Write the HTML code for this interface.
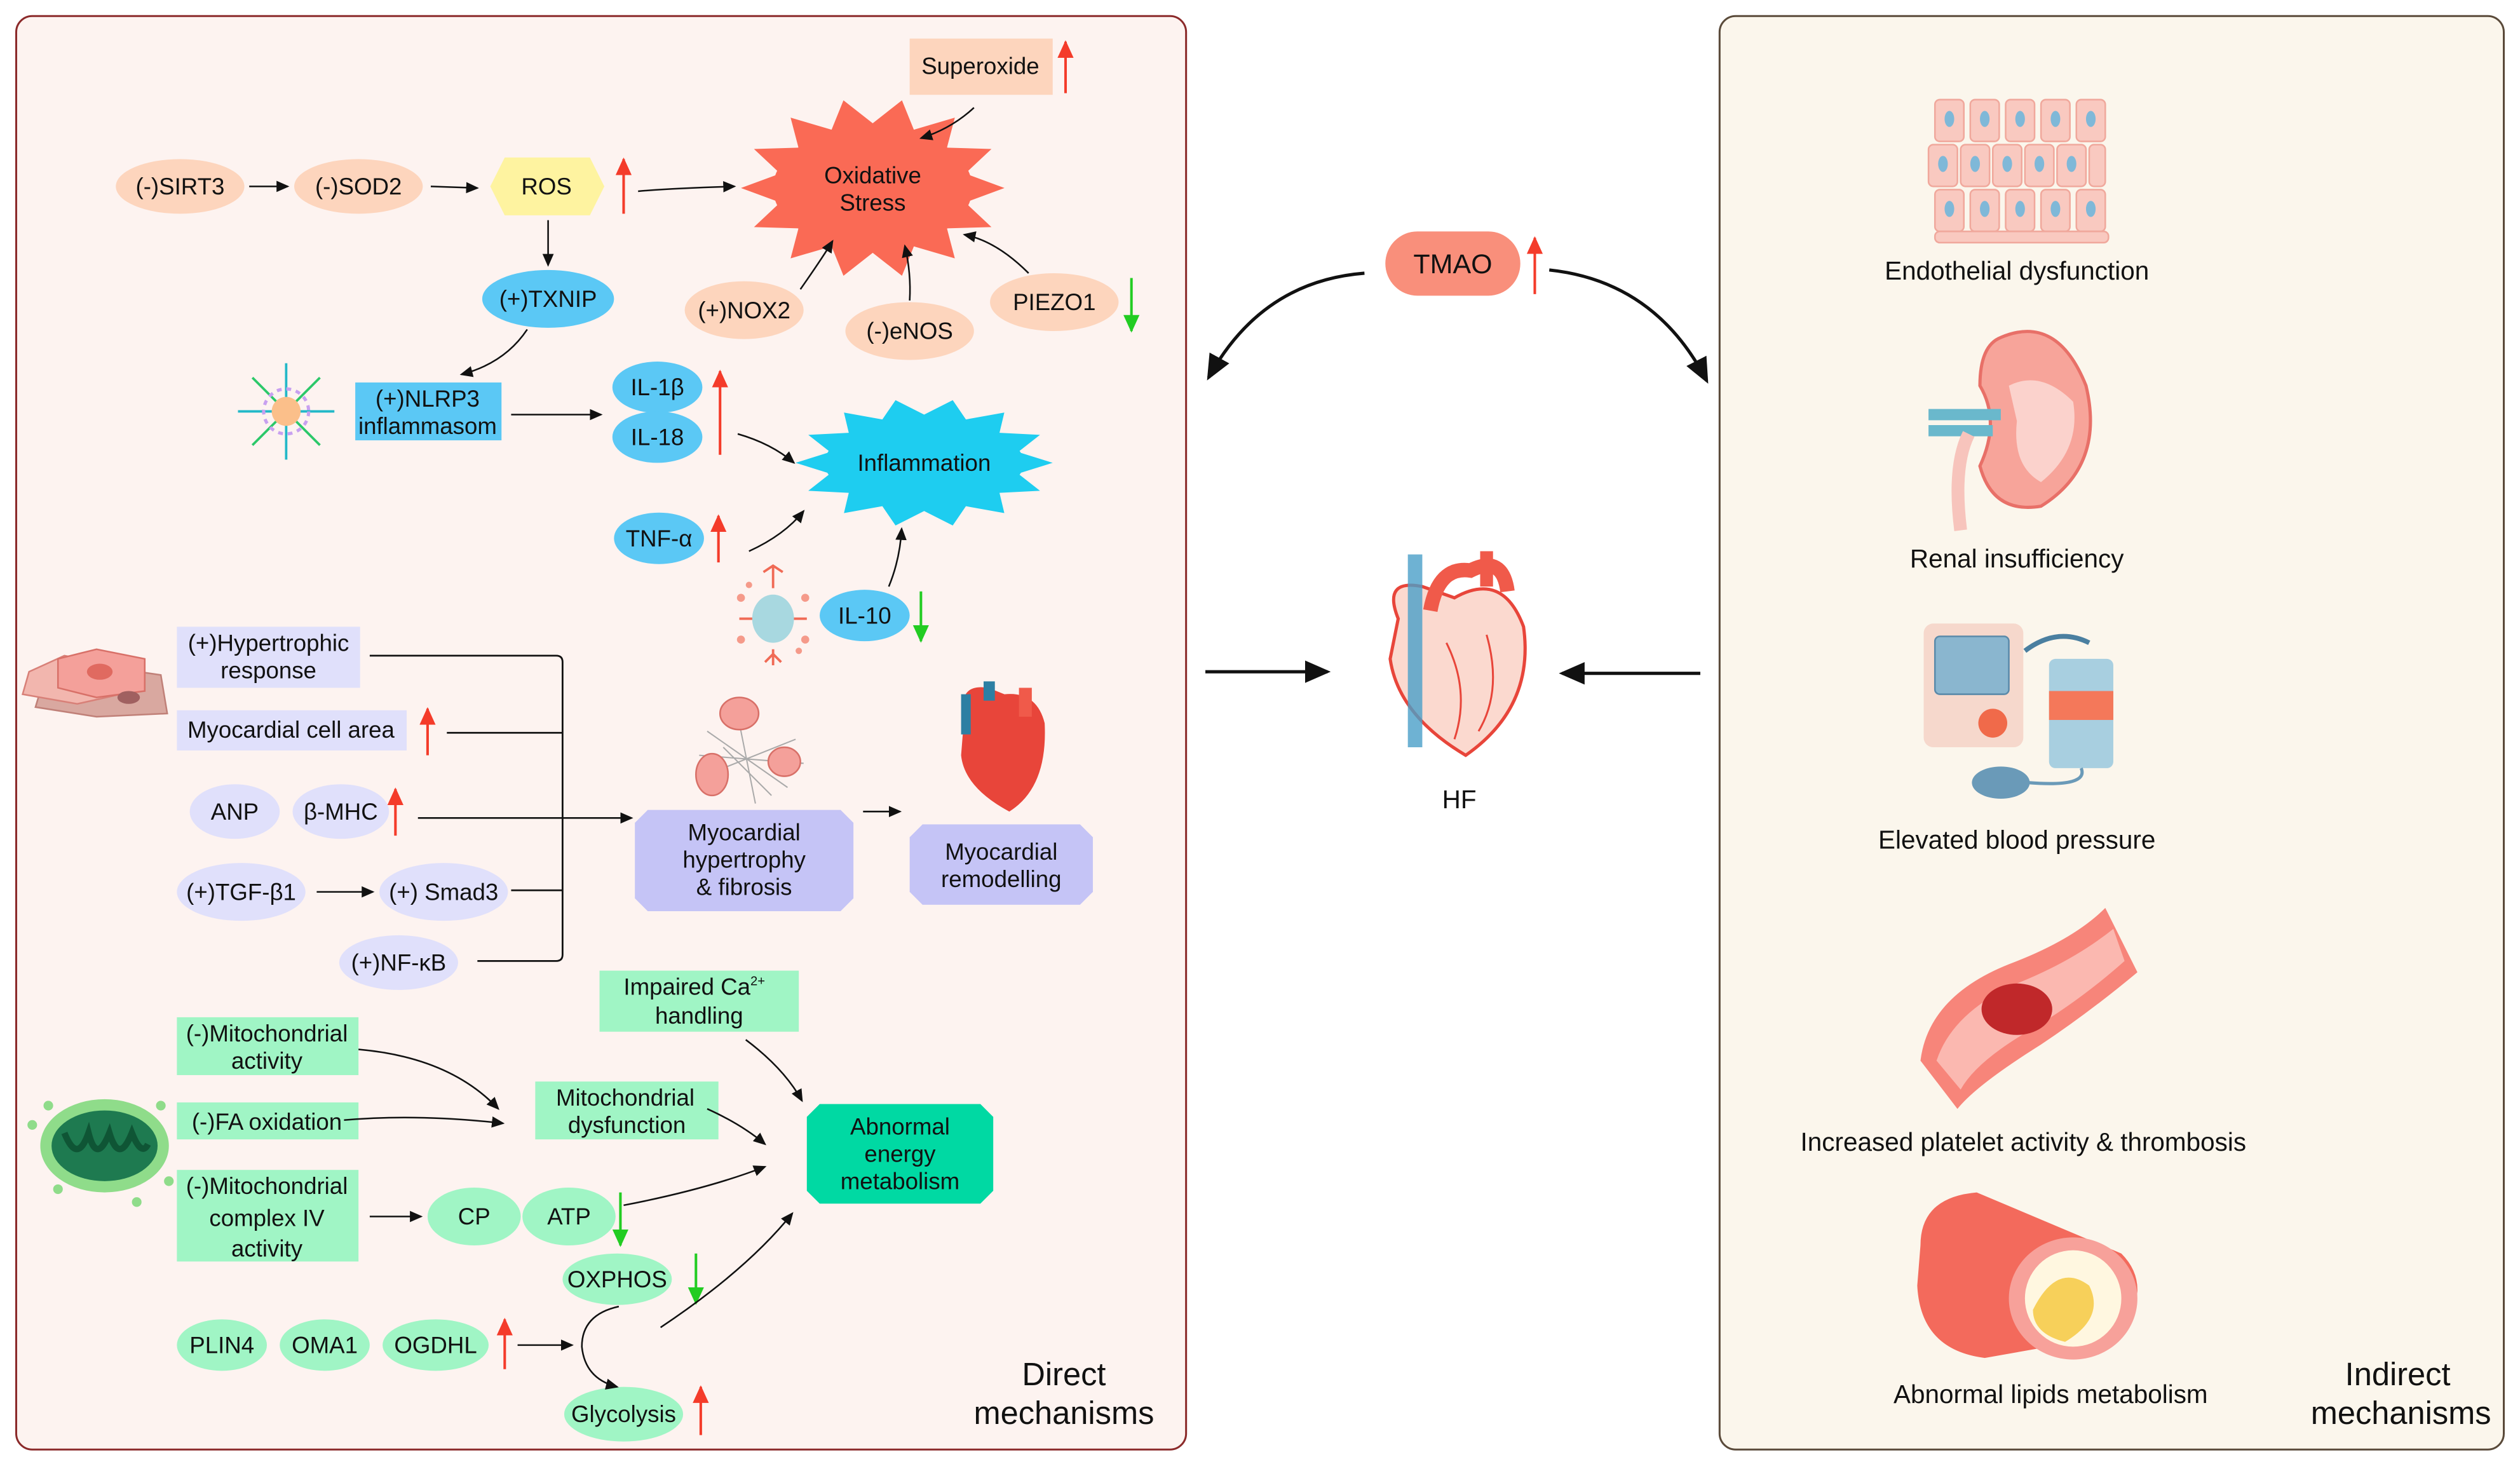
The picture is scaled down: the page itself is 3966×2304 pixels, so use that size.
<!DOCTYPE html>
<html><head><meta charset="utf-8"><style>
html,body{margin:0;padding:0;background:#fff;}
svg{display:block;}
text{font-family:"Liberation Sans",Arial,sans-serif;fill:#111;}
</style></head><body>
<svg id="s" width="3966" height="2304" viewBox="0 0 1568 911" xmlns="http://www.w3.org/2000/svg">
<defs>
<marker id="a" markerWidth="8" markerHeight="8" refX="7" refY="4" orient="auto" markerUnits="userSpaceOnUse"><path d="M0,0.5 L8,4 L0,7.5 Z" fill="#111"/></marker>
<marker id="ab" markerWidth="16" markerHeight="14" refX="14" refY="7" orient="auto" markerUnits="userSpaceOnUse"><path d="M0,0 L16,7 L0,14 Z" fill="#111"/></marker>
<marker id="r" markerWidth="11" markerHeight="10" refX="10" refY="5" orient="auto" markerUnits="userSpaceOnUse"><path d="M0,0 L11,5 L0,10 Z" fill="#f43b2a"/></marker>
<marker id="g" markerWidth="11" markerHeight="10" refX="10" refY="5" orient="auto" markerUnits="userSpaceOnUse"><path d="M0,0 L11,5 L0,10 Z" fill="#22cc22"/></marker>
</defs>
<!-- panels -->
<rect x="10" y="10" width="728" height="892" rx="10" fill="#fdf3f0" stroke="#8b2a2a" stroke-width="1.2"/>
<rect x="1070" y="10" width="488" height="892" rx="10" fill="#fbf6ec" stroke="#5a4a3a" stroke-width="1.2"/>

<g font-size="14.5" text-anchor="middle">
<!-- oxidative -->
<ellipse cx="543" cy="117" rx="62" ry="38" fill="#fa6a55"/>
<polygon id="st1" fill="#fa6a55" points=""/>
<text x="543" y="114">Oxidative</text><text x="543" y="131">Stress</text>
<rect x="566" y="24" width="89" height="35" fill="#fdd5bd"/><text x="610" y="46">Superoxide</text>
<line x1="663" y1="58" x2="663" y2="26" stroke="#f43b2a" stroke-width="1.6" marker-end="url(#r)"/>
<path d="M606,67 Q592,80 573,86" fill="none" stroke="#111" marker-end="url(#a)"/>

<ellipse cx="112" cy="116" rx="40" ry="17" fill="#fdd5bd"/><text x="112" y="121">(-)SIRT3</text>
<ellipse cx="223" cy="116" rx="40" ry="17" fill="#fdd5bd"/><text x="223" y="121">(-)SOD2</text>
<line x1="155" y1="116" x2="179" y2="116" stroke="#111" marker-end="url(#a)"/>
<line x1="268" y1="116" x2="297" y2="117" stroke="#111" marker-end="url(#a)"/>
<polygon points="305,116 314,98 367,98 376,116 367,134 314,134" fill="#fef3a0"/><text x="340" y="121">ROS</text>
<line x1="388" y1="133" x2="388" y2="99" stroke="#f43b2a" stroke-width="1.6" marker-end="url(#r)"/>
<path d="M397,119 Q420,117 457,116" fill="none" stroke="#111" marker-end="url(#a)"/>
<line x1="341" y1="137" x2="341" y2="165" stroke="#111" marker-end="url(#a)"/>
<ellipse cx="341" cy="186" rx="41" ry="18" fill="#5bc8f5"/><text x="341" y="191">(+)TXNIP</text>
<path d="M328,205 Q314,226 287,233" fill="none" stroke="#111" marker-end="url(#a)"/>
<ellipse cx="463" cy="193" rx="37" ry="18" fill="#fdd5bd"/><text x="463" y="198">(+)NOX2</text>
<ellipse cx="566" cy="206" rx="40" ry="18" fill="#fdd5bd"/><text x="566" y="211">(-)eNOS</text>
<ellipse cx="656" cy="188" rx="40" ry="18" fill="#fdd5bd"/><text x="656" y="193">PIEZO1</text>
<line x1="704" y1="173" x2="704" y2="206" stroke="#22cc22" stroke-width="1.6" marker-end="url(#g)"/>
<path d="M498,180 Q512,160 518,150" fill="none" stroke="#111" marker-end="url(#a)"/>
<path d="M566,187 Q567,170 563,153" fill="none" stroke="#111" marker-end="url(#a)"/>
<path d="M640,170 Q620,150 600,146" fill="none" stroke="#111" marker-end="url(#a)"/>

<!-- inflammation -->
<g stroke-width="1.5">
<line x1="178" y1="226" x2="178" y2="286" stroke="#22b8c8"/><line x1="148" y1="256" x2="208" y2="256" stroke="#22b8c8"/>
<line x1="157" y1="235" x2="199" y2="277" stroke="#2cc86a"/><line x1="199" y1="235" x2="157" y2="277" stroke="#2cc86a"/>
</g>
<circle cx="178" cy="256" r="9" fill="#fbbf8a"/><circle cx="178" cy="256" r="14" fill="none" stroke="#c8a0f0" stroke-width="2" stroke-dasharray="3 3"/>
<rect x="221" y="238" width="91" height="36" fill="#5bc8f5"/><text x="266" y="253">(+)NLRP3</text><text x="266" y="270">inflammasom</text>
<line x1="318" y1="258" x2="374" y2="258" stroke="#111" marker-end="url(#a)"/>
<ellipse cx="409" cy="241" rx="28" ry="16" fill="#5bc8f5"/><text x="409" y="246">IL-1β</text>
<ellipse cx="409" cy="272" rx="28" ry="16" fill="#5bc8f5"/><text x="409" y="277">IL-18</text>
<line x1="448" y1="283" x2="448" y2="231" stroke="#f43b2a" stroke-width="1.6" marker-end="url(#r)"/>
<path d="M459,270 Q480,276 494,288" fill="none" stroke="#111" marker-end="url(#a)"/>
<ellipse cx="575" cy="288" rx="62" ry="26" fill="#1ecdf0"/>
<polygon id="st2" fill="#1ecdf0" points=""/>
<text x="575" y="293">Inflammation</text>
<ellipse cx="410" cy="335" rx="28" ry="16" fill="#5bc8f5"/><text x="410" y="340">TNF-α</text>
<line x1="447" y1="350" x2="447" y2="321" stroke="#f43b2a" stroke-width="1.6" marker-end="url(#r)"/>
<path d="M466,343 Q488,333 500,318" fill="none" stroke="#111" marker-end="url(#a)"/>
<g stroke="#f06a55" stroke-width="1.5" fill="none"><line x1="460" y1="385" x2="502" y2="385"/><path d="M481,366 v-14 M475,356 l6,-4 l6,4 M481,404 v10 M476,412 l5,-5 l5,5"/></g>
<g fill="#f59a8a"><circle cx="461" cy="372" r="2.5"/><circle cx="501" cy="372" r="2.5"/><circle cx="461" cy="398" r="2.5"/><circle cx="501" cy="398" r="2.5"/><circle cx="466" cy="364" r="2"/><circle cx="497" cy="405" r="2"/></g>
<ellipse cx="481" cy="385" rx="13" ry="15" fill="#a8d8e0"/>
<ellipse cx="538" cy="383" rx="28" ry="16" fill="#5bc8f5"/><text x="538" y="388">IL-10</text>
<line x1="573" y1="368" x2="573" y2="399" stroke="#22cc22" stroke-width="1.6" marker-end="url(#g)"/>
<path d="M553,365 Q560,348 561,329" fill="none" stroke="#111" marker-end="url(#a)"/>

<!-- hypertrophy -->
<g>
<path d="M28,420 L45,412 L100,420 L104,444 L60,446 L22,440 Z" fill="#d9a8a0" stroke="#c08078"/>
<path d="M18,418 L40,408 L70,414 L75,432 L48,438 L14,432 Z" fill="#f2b6ae" stroke="#d88078"/>
<path d="M36,410 L60,404 L90,410 L90,430 L60,434 L36,428 Z" fill="#f4a09a" stroke="#d87068"/>
<ellipse cx="62" cy="418" rx="8" ry="5" fill="#e06a60"/><ellipse cx="80" cy="434" rx="7" ry="4" fill="#a06060"/>
</g>
<rect x="110" y="390" width="114" height="38" fill="#e0e0fb"/><text x="167" y="405">(+)Hypertrophic</text><text x="167" y="422">response</text>
<rect x="110" y="442" width="143" height="25" fill="#e0e0fb"/><text x="181" y="459">Myocardial cell area</text>
<line x1="266" y1="470" x2="266" y2="441" stroke="#f43b2a" stroke-width="1.6" marker-end="url(#r)"/>
<ellipse cx="146" cy="505" rx="28" ry="17" fill="#e0e0fb"/><text x="146" y="510">ANP</text>
<ellipse cx="212" cy="505" rx="30" ry="17" fill="#e0e0fb"/><text x="212" y="510">β-MHC</text>
<line x1="246" y1="520" x2="246" y2="491" stroke="#f43b2a" stroke-width="1.6" marker-end="url(#r)"/>
<ellipse cx="150" cy="555" rx="40" ry="18" fill="#e0e0fb"/><text x="150" y="560">(+)TGF-β1</text>
<ellipse cx="276" cy="555" rx="40" ry="18" fill="#e0e0fb"/><text x="276" y="560">(+) Smad3</text>
<line x1="197" y1="555" x2="232" y2="555" stroke="#111" marker-end="url(#a)"/>
<ellipse cx="248" cy="599" rx="37" ry="17" fill="#e0e0fb"/><text x="248" y="604">(+)NF-κB</text>
<path d="M230,408 H346 Q350,408 350,412 V594 Q350,598 346,598 H297 M278,456 H350 M318,554 H350" fill="none" stroke="#111" stroke-width="1.1"/>
<line x1="260" y1="509" x2="393" y2="509" stroke="#111" marker-end="url(#a)"/>
<polygon points="403,504 523,504 531,512 531,559 523,567 403,567 395,559 395,512" fill="#c5c4f6"/>
<text x="463" y="523">Myocardial</text><text x="463" y="540">hypertrophy</text><text x="463" y="557">&amp; fibrosis</text>
<line x1="537" y1="505" x2="560" y2="505" stroke="#111" marker-end="url(#a)"/>
<polygon points="574,513 672,513 680,521 680,555 672,563 574,563 566,555 566,521" fill="#c5c4f6"/>
<text x="623" y="535">Myocardial</text><text x="623" y="552">remodelling</text>
<!-- fibrosis icon -->
<g stroke="#aaa" stroke-width="0.8" fill="none"><path d="M440,455 L490,490 M445,480 L495,460 M450,465 L480,495 M460,450 L470,500 M435,470 L500,475"/></g>
<ellipse cx="460" cy="444" rx="12" ry="10" fill="#f4a09a" stroke="#d87068"/><ellipse cx="443" cy="482" rx="10" ry="13" fill="#f4a09a" stroke="#d87068"/><ellipse cx="488" cy="474" rx="10" ry="9" fill="#f4a09a" stroke="#d87068"/>
<!-- small heart -->
<path d="M600,445 Q596,425 615,428 L625,432 Q645,430 650,450 Q652,490 628,505 Q600,490 598,470 Z" fill="#e8453a"/>
<rect x="598" y="432" width="6" height="25" fill="#2d7fa3"/><rect x="612" y="424" width="7" height="12" fill="#2d7fa3"/><rect x="634" y="428" width="8" height="18" fill="#f05a4a"/>

<!-- energy -->
<rect x="373" y="604" width="124" height="38" fill="#a0f5c5"/><text x="432" y="619">Impaired Ca<tspan font-size="8" dy="-6">2+</tspan></text><text x="435" y="637">handling</text>
<rect x="110" y="633" width="113" height="36" fill="#a0f5c5"/><text x="166" y="648">(-)Mitochondrial</text><text x="166" y="665">activity</text>
<rect x="110" y="686" width="113" height="23" fill="#a0f5c5"/><text x="166" y="703">(-)FA oxidation</text>
<rect x="110" y="728" width="113" height="57" fill="#a0f5c5"/><text x="166" y="743">(-)Mitochondrial</text><text x="166" y="763">complex IV</text><text x="166" y="782">activity</text>
<rect x="333" y="673" width="114" height="36" fill="#a0f5c5"/><text x="389" y="688">Mitochondrial</text><text x="390" y="705">dysfunction</text>
<polygon points="510,687 610,687 618,695 618,741 610,749 510,749 502,741 502,695" fill="#00d9a3"/>
<text x="560" y="706">Abnormal</text><text x="560" y="723">energy</text><text x="560" y="740">metabolism</text>
<ellipse cx="295" cy="757" rx="29" ry="18" fill="#a0f5c5"/><text x="295" y="762">CP</text>
<ellipse cx="354" cy="757" rx="29" ry="18" fill="#a0f5c5"/><text x="354" y="762">ATP</text>
<line x1="386" y1="742" x2="386" y2="775" stroke="#22cc22" stroke-width="1.6" marker-end="url(#g)"/>
<ellipse cx="384" cy="796" rx="34" ry="16" fill="#a0f5c5"/><text x="384" y="801">OXPHOS</text>
<line x1="433" y1="780" x2="433" y2="811" stroke="#22cc22" stroke-width="1.6" marker-end="url(#g)"/>
<ellipse cx="138" cy="837" rx="28" ry="16" fill="#a0f5c5"/><text x="138" y="842">PLIN4</text>
<ellipse cx="202" cy="837" rx="28" ry="16" fill="#a0f5c5"/><text x="202" y="842">OMA1</text>
<ellipse cx="271" cy="837" rx="33" ry="16" fill="#a0f5c5"/><text x="271" y="842">OGDHL</text>
<line x1="314" y1="852" x2="314" y2="821" stroke="#f43b2a" stroke-width="1.6" marker-end="url(#r)"/>
<line x1="322" y1="837" x2="356" y2="837" stroke="#111" marker-end="url(#a)"/>
<ellipse cx="388" cy="880" rx="37" ry="17" fill="#a0f5c5"/><text x="388" y="885">Glycolysis</text>
<line x1="436" y1="893" x2="436" y2="863" stroke="#f43b2a" stroke-width="1.6" marker-end="url(#r)"/>
<path d="M385,813 Q362,818 362,838 Q364,858 384,863" fill="none" stroke="#111" marker-end="url(#a)"/>
<path d="M223,653 Q280,658 310,690" fill="none" stroke="#111" marker-end="url(#a)"/>
<path d="M214,697 Q260,693 313,699" fill="none" stroke="#111" marker-end="url(#a)"/>
<line x1="230" y1="757" x2="262" y2="757" stroke="#111" marker-end="url(#a)"/>
<path d="M388,750 Q440,740 476,726" fill="none" stroke="#111" marker-end="url(#a)"/>
<path d="M411,826 Q465,790 493,755" fill="none" stroke="#111" marker-end="url(#a)"/>
<path d="M464,647 Q488,665 499,685" fill="none" stroke="#111" marker-end="url(#a)"/>
<path d="M440,690 Q462,700 476,712" fill="none" stroke="#111" marker-end="url(#a)"/>
<!-- mitochondrion -->
<ellipse cx="65" cy="713" rx="40" ry="29" fill="#8fdc8a"/><ellipse cx="65" cy="713" rx="33" ry="22" fill="#1e7a50"/>
<path d="M40,705 Q48,725 55,705 Q60,725 68,705 Q74,725 82,705 Q88,720 92,712" fill="none" stroke="#0f5535" stroke-width="4"/>
<g fill="#8fdc8a"><circle cx="30" cy="688" r="3"/><circle cx="100" cy="688" r="3"/><circle cx="20" cy="700" r="3"/><circle cx="105" cy="735" r="3"/><circle cx="36" cy="740" r="3"/><circle cx="85" cy="748" r="3"/></g>
<text x="662" y="862" font-size="20">Direct</text><text x="662" y="886" font-size="20">mechanisms</text>

<!-- middle -->
<rect x="862" y="144" width="84" height="40" rx="20" fill="#f98f7b"/><text x="904" y="170" font-size="17">TMAO</text>
<line x1="955" y1="183" x2="955" y2="148" stroke="#f43b2a" stroke-width="1.6" marker-end="url(#r)"/>
<path d="M849,170 Q785,175 752,235" fill="none" stroke="#111" stroke-width="2" marker-end="url(#ab)"/>
<path d="M964,168 Q1030,175 1062,237" fill="none" stroke="#111" stroke-width="2" marker-end="url(#ab)"/>
<line x1="750" y1="418" x2="826" y2="418" stroke="#111" stroke-width="2" marker-end="url(#ab)"/>
<line x1="1058" y1="419" x2="972" y2="419" stroke="#111" stroke-width="2" marker-end="url(#ab)"/>
<g>
<path d="M870,385 Q860,360 885,365 L905,372 Q935,355 948,390 Q955,440 912,470 Q870,445 865,410 Z" fill="#fbd9cf" stroke="#e8453a" stroke-width="2"/>
<rect x="876" y="345" width="9" height="120" fill="#4a9fc8" opacity="0.8"/>
<path d="M890,380 Q895,352 915,355 Q935,345 938,368" fill="none" stroke="#f05a4a" stroke-width="9"/>
<rect x="921" y="343" width="8" height="22" fill="#f05a4a"/>
<path d="M900,400 Q915,430 905,460 M925,395 Q935,430 920,455" fill="none" stroke="#e8453a" stroke-width="1.2"/>
</g>
<text x="908" y="503" font-size="16">HF</text>

<!-- right icons -->
<g fill="#f9c9c0" stroke="#f0a89c" stroke-width="1">
<rect x="1204" y="62" width="18" height="26" rx="3"/><rect x="1226" y="62" width="18" height="26" rx="3"/><rect x="1248" y="62" width="18" height="26" rx="3"/><rect x="1270" y="62" width="18" height="26" rx="3"/><rect x="1292" y="62" width="18" height="26" rx="3"/>
<rect x="1200" y="90" width="18" height="26" rx="3"/><rect x="1220" y="90" width="18" height="26" rx="3"/><rect x="1240" y="90" width="18" height="26" rx="3"/><rect x="1260" y="90" width="18" height="26" rx="3"/><rect x="1280" y="90" width="18" height="26" rx="3"/><rect x="1300" y="90" width="10" height="26" rx="3"/>
<rect x="1204" y="118" width="18" height="26" rx="3"/><rect x="1226" y="118" width="18" height="26" rx="3"/><rect x="1248" y="118" width="18" height="26" rx="3"/><rect x="1270" y="118" width="18" height="26" rx="3"/><rect x="1292" y="118" width="18" height="26" rx="3"/>
<rect x="1204" y="144" width="108" height="7" rx="3"/>
</g>
<g fill="#7fb8d8"><ellipse cx="1213" cy="74" rx="3" ry="5"/><ellipse cx="1235" cy="74" rx="3" ry="5"/><ellipse cx="1257" cy="74" rx="3" ry="5"/><ellipse cx="1279" cy="74" rx="3" ry="5"/><ellipse cx="1301" cy="74" rx="3" ry="5"/><ellipse cx="1209" cy="102" rx="3" ry="5"/><ellipse cx="1229" cy="102" rx="3" ry="5"/><ellipse cx="1249" cy="102" rx="3" ry="5"/><ellipse cx="1269" cy="102" rx="3" ry="5"/><ellipse cx="1289" cy="102" rx="3" ry="5"/><ellipse cx="1213" cy="130" rx="3" ry="5"/><ellipse cx="1235" cy="130" rx="3" ry="5"/><ellipse cx="1257" cy="130" rx="3" ry="5"/><ellipse cx="1279" cy="130" rx="3" ry="5"/><ellipse cx="1301" cy="130" rx="3" ry="5"/></g>
<text x="1255" y="174" font-size="16">Endothelial dysfunction</text>
<path d="M1245,210 Q1280,195 1298,240 Q1310,290 1270,315 Q1240,320 1232,290 Q1245,262 1232,240 Q1232,215 1245,210 Z" fill="#f7a49a" stroke="#e87068" stroke-width="2"/>
<path d="M1250,240 Q1270,230 1290,250 Q1295,280 1270,300 Q1252,290 1255,262 Z" fill="#fbd2cc"/>
<path d="M1200,258 H1245 M1200,268 H1240" stroke="#6ab8cc" stroke-width="7"/>
<path d="M1225,270 Q1215,290 1220,330" fill="none" stroke="#f7c4bc" stroke-width="8"/>
<text x="1255" y="353" font-size="16">Renal insufficiency</text>
<rect x="1197" y="388" width="62" height="77" rx="6" fill="#f6d8cc"/><rect x="1204" y="396" width="46" height="36" rx="3" fill="#8ab6cf" stroke="#5a8aaa"/>
<circle cx="1240" cy="450" r="9" fill="#f06a4a"/>
<path d="M1260,405 Q1280,390 1300,400" fill="none" stroke="#4a7fa0" stroke-width="3"/>
<rect x="1275" y="410" width="40" height="68" rx="4" fill="#a8cfe0"/><rect x="1275" y="430" width="40" height="18" fill="#f4785a"/>
<ellipse cx="1245" cy="487" rx="18" ry="10" fill="#6a9ab8"/>
<path d="M1262,487 Q1300,490 1295,478" fill="none" stroke="#6a9ab8" stroke-width="2"/>
<text x="1255" y="528" font-size="16">Elevated blood pressure</text>
<path d="M1195,660 Q1200,620 1250,600 Q1290,585 1310,565 L1330,605 Q1300,630 1270,650 Q1230,675 1218,690 Z" fill="#f7857a"/>
<path d="M1205,660 Q1215,630 1255,612 Q1290,598 1315,578 L1322,598 Q1295,622 1265,640 Q1230,660 1220,678 Z" fill="#fbb8b0"/>
<ellipse cx="1255" cy="628" rx="22" ry="16" fill="#c0282a"/>
<text x="1259" y="716" font-size="16">Increased platelet activity &amp; thrombosis</text>
<path d="M1195,775 Q1195,745 1230,742 L1320,780 Q1340,800 1320,830 L1235,845 Q1195,840 1193,800 Z" fill="#f36a5c"/>
<ellipse cx="1290" cy="808" rx="40" ry="38" fill="#f7a19a"/><ellipse cx="1290" cy="808" rx="30" ry="30" fill="#fff7e0"/>
<path d="M1265,815 Q1280,785 1300,800 Q1310,820 1285,835 Q1265,830 1265,815 Z" fill="#f7d05a"/>
<text x="1276" y="873" font-size="16">Abnormal lipids metabolism</text>
<text x="1492" y="862" font-size="20">Indirect</text><text x="1494" y="886" font-size="20">mechanisms</text>
</g>
<script>
function star(id,cx,cy,rx,ry,n,inner){var p=[];for(var i=0;i<2*n;i++){var a=Math.PI*i/n;var f=i%2?inner:1;p.push((cx+rx*f*Math.cos(a)).toFixed(1)+","+(cy+ry*f*Math.sin(a)).toFixed(1));}document.getElementById(id).setAttribute("points",p.join(" "));}
star("st1",543,117,82,56,14,0.72);
star("st2",575,288,80,40,14,0.75);
</script>
</svg>
</body></html>
